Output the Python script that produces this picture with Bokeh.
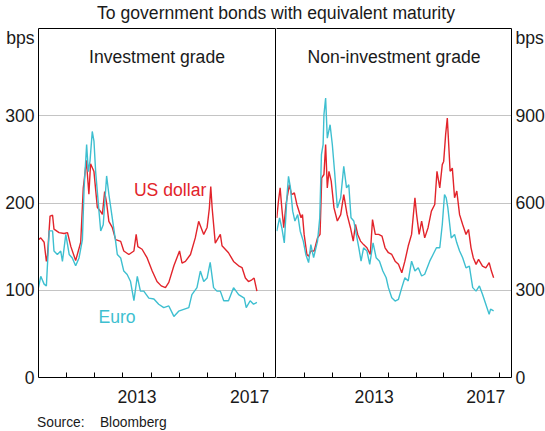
from bokeh.plotting import figure
from bokeh.models import (Range1d, LinearAxis, FixedTicker, Label, Div,
                          CustomJSTickFormatter)
from bokeh.layouts import row, column
from bokeh.embed import file_html
from bokeh.resources import INLINE

# ---------------- data (decimal years, basis points) ----------------
ig_usd_x = [2010.00, 2010.08, 2010.20, 2010.28, 2010.32, 2010.41, 2010.50, 2010.55, 2010.73, 2010.91,
            2011.03, 2011.15, 2011.32, 2011.50, 2011.59, 2011.62, 2011.70, 2011.79, 2011.85, 2011.97,
            2012.09, 2012.21, 2012.27, 2012.35, 2012.42, 2012.50, 2012.62, 2012.74, 2012.92, 2013.03,
            2013.21, 2013.39, 2013.47, 2013.53, 2013.68, 2013.86, 2014.04, 2014.21, 2014.36, 2014.51,
            2014.63, 2014.81, 2015.01, 2015.10, 2015.22, 2015.40, 2015.57, 2015.69, 2015.75, 2015.87,
            2015.99, 2016.07, 2016.12, 2016.17, 2016.28, 2016.46, 2016.52, 2016.75, 2016.93, 2017.11,
            2017.23, 2017.35, 2017.46, 2017.58, 2017.66, 2017.76]
ig_usd = [158, 160, 155, 133, 140, 185, 186, 170, 166, 165,
          166, 150, 134, 155, 217, 225, 249, 210, 245, 236,
          195, 190, 187, 213, 200, 179, 172, 158, 156, 145,
          141, 145, 164, 150, 147, 137, 122, 110, 105, 103,
          109, 128, 145, 131, 133, 141, 160, 179, 174, 164,
          172, 194, 219, 194, 154, 164, 151, 143, 133, 128,
          126, 114, 110, 112, 114, 99]

ig_eur_x = [2010.00, 2010.08, 2010.20, 2010.28, 2010.38, 2010.50, 2010.55, 2010.67, 2010.79, 2010.85,
            2010.97, 2011.09, 2011.20, 2011.32, 2011.44, 2011.56, 2011.62, 2011.71, 2011.77, 2011.83,
            2011.91, 2011.97, 2012.03, 2012.15, 2012.21, 2012.30, 2012.42, 2012.50, 2012.62, 2012.74,
            2012.80, 2012.92, 2013.03, 2013.15, 2013.27, 2013.39, 2013.51, 2013.62, 2013.74, 2013.92,
            2014.10, 2014.27, 2014.45, 2014.63, 2014.81, 2014.98, 2015.16, 2015.34, 2015.45, 2015.63,
            2015.75, 2015.87, 2015.99, 2016.10, 2016.22, 2016.34, 2016.46, 2016.58, 2016.75, 2016.93,
            2017.11, 2017.31, 2017.38, 2017.52, 2017.64, 2017.76]
ig_eur = [103, 116, 107, 105, 168, 168, 145, 141, 145, 133,
          164, 141, 137, 128, 137, 158, 217, 267, 236, 248,
          282, 271, 236, 190, 168, 175, 231, 210, 183, 156,
          141, 137, 122, 118, 110, 88, 116, 99, 99, 91,
          90, 84, 80, 82, 70, 76, 78, 80, 95, 103,
          122, 110, 114, 132, 103, 99, 99, 88, 88, 103,
          95, 91, 80, 88, 84, 86]

hy_usd_x = [2010.01, 2010.07, 2010.13, 2010.19, 2010.26, 2010.34, 2010.46, 2010.54, 2010.64, 2010.73,
            2010.88, 2010.93, 2010.99, 2011.09, 2011.15, 2011.23, 2011.35, 2011.47, 2011.56, 2011.62,
            2011.70, 2011.76, 2011.82, 2011.88, 2011.96, 2012.06, 2012.18, 2012.30, 2012.41, 2012.53,
            2012.65, 2012.75, 2012.83, 2012.91, 2013.01, 2013.12, 2013.24, 2013.36, 2013.44, 2013.54,
            2013.66, 2013.78, 2013.89, 2014.01, 2014.13, 2014.25, 2014.37, 2014.49, 2014.60, 2014.72,
            2014.84, 2014.96, 2015.02, 2015.11, 2015.20, 2015.31, 2015.43, 2015.55, 2015.67, 2015.75,
            2015.85, 2015.94, 2015.99, 2016.06, 2016.12, 2016.17, 2016.22, 2016.30, 2016.38, 2016.46,
            2016.56, 2016.67, 2016.79, 2016.88, 2016.97, 2017.05, 2017.15, 2017.24, 2017.38, 2017.50,
            2017.62, 2017.70, 2017.78]
hy_usd = [549, 606, 652, 583, 515, 595, 663, 629, 635, 595,
          549, 560, 492, 423, 417, 435, 435, 480, 492, 686,
          698, 801, 652, 709, 675, 583, 538, 560, 629, 560,
          515, 469, 526, 492, 469, 457, 446, 423, 543, 492,
          492, 486, 446, 429, 423, 400, 389, 360, 400, 452,
          492, 618, 560, 492, 538, 480, 515, 572, 595, 709,
          652, 732, 743, 835, 892, 801, 709, 720, 618, 641,
          560, 526, 492, 509, 446, 412, 389, 406, 383, 377,
          395, 366, 343]

hy_eur_x = [2010.01, 2010.11, 2010.19, 2010.28, 2010.38, 2010.43, 2010.50, 2010.58, 2010.66, 2010.76,
            2010.85, 2010.96, 2011.05, 2011.15, 2011.23, 2011.33, 2011.47, 2011.55, 2011.61, 2011.67,
            2011.70, 2011.76, 2011.82, 2011.92, 2012.00, 2012.08, 2012.18, 2012.30, 2012.41, 2012.51,
            2012.59, 2012.67, 2012.77, 2012.86, 2012.95, 2013.03, 2013.12, 2013.24, 2013.34, 2013.46,
            2013.57, 2013.69, 2013.81, 2013.93, 2014.01, 2014.13, 2014.25, 2014.37, 2014.49, 2014.60,
            2014.72, 2014.84, 2014.96, 2015.08, 2015.20, 2015.31, 2015.49, 2015.61, 2015.73, 2015.85,
            2015.94, 2016.02, 2016.08, 2016.14, 2016.26, 2016.38, 2016.46, 2016.56, 2016.67, 2016.79,
            2016.91, 2017.03, 2017.15, 2017.27, 2017.38, 2017.50, 2017.62, 2017.67, 2017.78]
hy_eur = [503, 549, 515, 463, 629, 692, 652, 572, 538, 560,
          503, 469, 423, 395, 457, 412, 469, 549, 766, 801,
          904, 961, 823, 869, 801, 709, 583, 618, 726, 652,
          663, 549, 538, 492, 446, 400, 446, 435, 389, 463,
          412, 400, 366, 343, 309, 274, 263, 269, 309, 343,
          332, 400, 366, 377, 349, 355, 400, 423, 446, 446,
          526, 629, 618, 583, 480, 492, 463, 435, 412, 377,
          383, 309, 297, 315, 286, 252, 217, 235, 229]

year_ticks = [2011, 2012, 2013, 2014, 2015, 2016, 2017, 2018]
label_years = [2013, 2017]
ig_yticks = [0, 100, 200, 300]
hy_yticks = [0, 300, 600, 900]
unit_label = "bps"

title = "To government bonds with equivalent maturity"
panel_titles = ["Investment grade", "Non-investment grade"]
series_names = ["US dollar", "Euro"]
source_text = "Source:&nbsp;&nbsp;&nbsp;&nbsp;Bloomberg"

# ---------------- style / layout ----------------
FONT = "Liberation Sans"
TXT = "#1a1a1a"
RED = "#e2242b"
CYAN = "#3ebfd0"
GRID = "#c4c4c4"
FS = "17.6px"
X0, X1 = 2010.0, 2018.42
FH = 349
FW1, FW2 = 237, 235


def edge_axis():
    return LinearAxis(ticker=FixedTicker(ticks=[]), major_tick_in=0, major_tick_out=0,
                      minor_tick_in=0, minor_tick_out=0, major_label_standoff=0,
                      major_label_text_font_size="0px", axis_line_color="black",
                      axis_line_width=1)


def make_panel(ymax, yticks, yloc, fw, mbl, mbr):
    p = figure(frame_width=fw, frame_height=FH, x_range=Range1d(X0, X1),
               y_range=Range1d(0, ymax), y_axis_location=yloc,
               output_backend="svg", toolbar_location=None,
               min_border_left=mbl, min_border_right=mbr, min_border_top=1,
               min_border_bottom=40, outline_line_color=None,
               background_fill_color="white", border_fill_color="white")
    xa = p.xaxis[0]
    xa.ticker = FixedTicker(ticks=[y + 0.5 for y in label_years], minor_ticks=year_ticks)
    xa.formatter = CustomJSTickFormatter(code="return String(Math.floor(tick));")
    xa.major_tick_in = 0
    xa.major_tick_out = 0
    xa.minor_tick_in = 5
    xa.minor_tick_out = 0
    xa.minor_tick_line_color = "black"
    xa.axis_line_color = "black"
    xa.major_label_standoff = 12
    xa.major_label_text_font = FONT
    xa.major_label_text_font_size = FS
    xa.major_label_text_color = TXT

    # unit label sits as an extra tick just below the top of the frame
    unit_pos = ymax - 4.5 * ymax / FH
    ya = p.yaxis[0]
    ya.ticker = FixedTicker(ticks=yticks + [unit_pos])
    ya.formatter = CustomJSTickFormatter(
        args=dict(lim=yticks[-1] + 1, unit=unit_label),
        code="return tick > lim ? unit : tick.toFixed(0);")
    ya.major_tick_in = 0
    ya.major_tick_out = 0
    ya.minor_tick_in = 0
    ya.minor_tick_out = 0
    ya.axis_line_color = "black"
    ya.major_label_standoff = 4
    ya.major_label_text_font = FONT
    ya.major_label_text_font_size = FS
    ya.major_label_text_color = TXT

    p.xgrid.visible = False
    p.ygrid.ticker = FixedTicker(ticks=yticks[1:])
    p.ygrid.grid_line_color = GRID
    p.ygrid.grid_line_width = 1

    p.add_layout(edge_axis(), "above")
    return p


p1 = make_panel(400, ig_yticks, "left", FW1, 38, 1)
p1.add_layout(edge_axis(), "right")
p2 = make_panel(1200, hy_yticks, "right", FW2, 0, 0)

p1.line(ig_usd_x, ig_usd, line_color=RED, line_width=1.4)
p1.line(ig_eur_x, ig_eur, line_color=CYAN, line_width=1.4)
p2.line(hy_usd_x, hy_usd, line_color=RED, line_width=1.4)
p2.line(hy_eur_x, hy_eur, line_color=CYAN, line_width=1.4)

for p, ymax, ptitle in [(p1, 400, panel_titles[0]), (p2, 1200, panel_titles[1])]:
    p.add_layout(Label(x=(X0 + X1) / 2, y=ymax - 28 * ymax / FH, text=ptitle,
                       text_align="center", text_baseline="alphabetic", text_font=FONT,
                       text_font_size=FS, text_color=TXT))

p1.add_layout(Label(x=2013.39, y=215, text=series_names[0], text_align="left",
                    text_baseline="alphabetic", text_font=FONT, text_font_size=FS,
                    text_color=RED))
p1.add_layout(Label(x=2012.13, y=69, text=series_names[1], text_align="left",
                    text_baseline="alphabetic", text_font=FONT, text_font_size=FS,
                    text_color=CYAN))

sub = Div(text=title, width=538, height=27, margin=(0, 0, 0, 7),
          styles={"font-size": FS, "line-height": "27px", "text-align": "center",
                  "font-family": FONT, "color": TXT})
src = Div(text=source_text, width=400, height=12, margin=(0, 0, 0, 37),
          styles={"font-size": "13.8px", "line-height": "12px", "font-family": FONT,
                  "color": TXT})

layout = column(sub, row(p1, p2), src)

with open("out.html", "w") as f:
    f.write(file_html(layout, INLINE))
